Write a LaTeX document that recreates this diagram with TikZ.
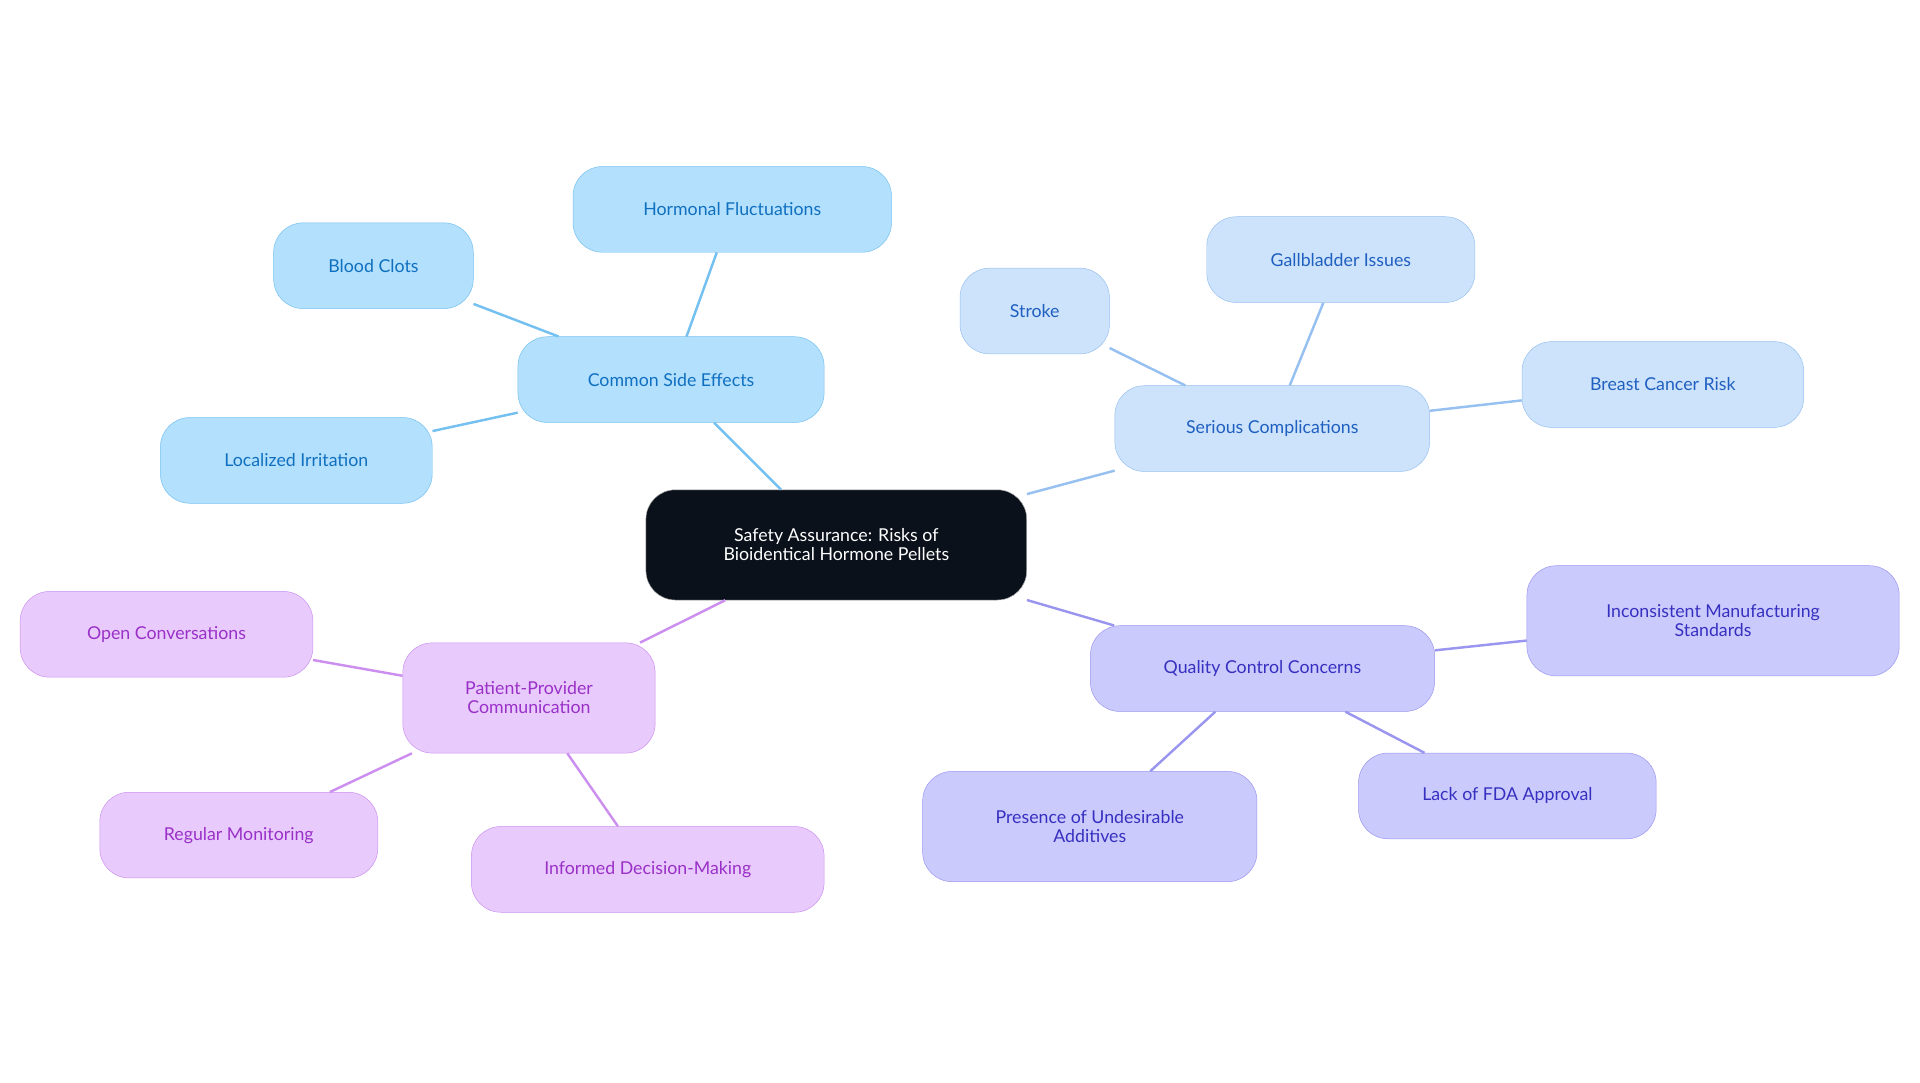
\documentclass[tikz,border=0pt]{standalone}
\usepackage{fontspec}
\setmainfont{Lato}
\begin{document}
\definecolor{bA}{HTML}{B3E0FD}\definecolor{dA}{HTML}{74C0F0}\definecolor{tA}{HTML}{1070C0}
\definecolor{bB}{HTML}{CDE3FB}\definecolor{dB}{HTML}{96C0F0}\definecolor{tB}{HTML}{1F5FC0}
\definecolor{bC}{HTML}{CBCAFD}\definecolor{dC}{HTML}{9A96EF}\definecolor{tC}{HTML}{3630C0}
\definecolor{bD}{HTML}{E8CBFC}\definecolor{dD}{HTML}{CC8FEF}\definecolor{tD}{HTML}{9A30C8}
\begin{tikzpicture}[x=1pt,y=-1pt,
 n/.style={rounded corners=24pt,minimum height=70pt,align=center,font=\fontsize{14.5}{15.5}\selectfont,inner sep=0pt},
 A/.style={n,fill=bA,draw=dA,text=tA},B/.style={n,fill=bB,draw=dB,text=tB},
 C/.style={n,fill=bC,draw=dC,text=tC},D/.style={n,fill=bD,draw=dD,text=tD},
 eA/.style={dA,line width=2pt},eB/.style={dB,line width=2pt},eC/.style={dC,line width=2pt},eD/.style={dD,line width=2pt}]
\useasboundingbox (0,0) rectangle (1568,884);
\node[n,fill={rgb,255:red,11;green,17;blue,27},draw=gray!60,text=white,minimum width=311pt,minimum height=90pt] (r) at (683,445) {Safety Assurance: Risks of\\Bioidentical Hormone Pellets};
\node[A,minimum width=250pt] (a) at (548,310) {Common Side Effects};
\node[A,minimum width=260pt] (a1) at (598,171) {Hormonal Fluctuations};
\node[A,minimum width=163pt] (a2) at (305,217) {Blood Clots};
\node[A,minimum width=222pt] (a3) at (242,376) {Localized Irritation};
\node[B,minimum width=257pt] (b) at (1039,350) {Serious Complications};
\node[B,minimum width=122pt] (b1) at (845,254) {Stroke};
\node[B,minimum width=219pt] (b2) at (1095,212) {Gallbladder Issues};
\node[B,minimum width=230pt] (b3) at (1358,314) {Breast Cancer Risk};
\node[C,minimum width=281pt] (c) at (1031,546) {Quality Control Concerns};
\node[C,minimum width=304pt,minimum height=90pt] (c1) at (1399,507) {Inconsistent Manufacturing\\Standards};
\node[C,minimum width=243pt] (c2) at (1231,650) {Lack of FDA Approval};
\node[C,minimum width=273pt,minimum height=90pt] (c3) at (890,675) {Presence of Undesirable\\Additives};
\node[D,minimum width=206pt,minimum height=90pt] (d) at (432,570) {Patient-Provider\\Communication};
\node[D,minimum width=239pt] (d1) at (136,518) {Open Conversations};
\node[D,minimum width=227pt] (d2) at (195,682) {Regular Monitoring};
\node[D,minimum width=288pt] (d3) at (529,710) {Informed Decision-Making};
\begin{scope}[on background layer/.try]
\end{scope}
\begin{pgfinterruptboundingbox}\end{pgfinterruptboundingbox}
\draw[eA] (r) -- (a); \draw[eA] (a) -- (a1); \draw[eA] (a) -- (a2); \draw[eA] (a) -- (a3);
\draw[eB] (r) -- (b); \draw[eB] (b) -- (b1); \draw[eB] (b) -- (b2); \draw[eB] (b) -- (b3);
\draw[eC] (r) -- (c); \draw[eC] (c) -- (c1); \draw[eC] (c) -- (c2); \draw[eC] (c) -- (c3);
\draw[eD] (r) -- (d); \draw[eD] (d) -- (d1); \draw[eD] (d) -- (d2); \draw[eD] (d) -- (d3);
\end{tikzpicture}
\end{document}
